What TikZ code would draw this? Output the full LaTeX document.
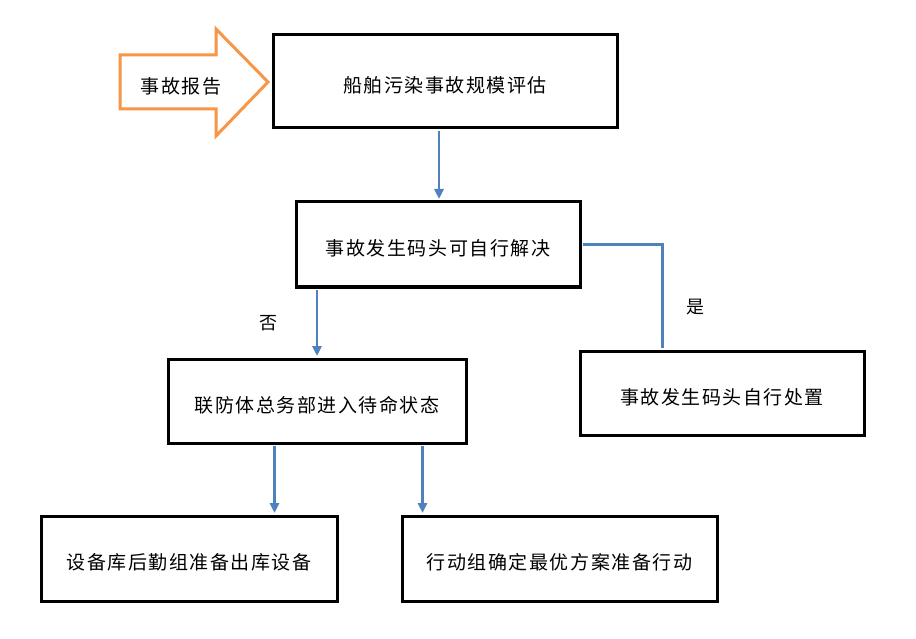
\documentclass[tikz,border=0pt]{standalone}
\usepackage{fontspec}
\newfontfamily\cjk[LetterSpace=8]{Noto Sans CJK SC}
\usetikzlibrary{arrows.meta,calc}
\definecolor{conncol}{RGB}{79,129,189}
\definecolor{orangecol}{RGB}{247,150,70}
\newcommand{\lowtxt}[1]{\raisebox{-4pt}[\height][\depth]{#1}}
\tikzset{
  box/.style={draw=black,line width=3pt,rectangle,inner sep=0pt,font=\cjk\fontsize{19}{22}\selectfont},
  conn/.style={draw=conncol,line width=2.5pt},
  arr/.style={conn,-{Triangle[length=10pt,width=9pt]}},
  lbl/.style={font=\cjk\fontsize{18}{21}\selectfont,inner sep=0pt}
}
\begin{document}
\begin{tikzpicture}[x=1pt,y=-1pt]
\useasboundingbox (0,0) rectangle (916,639);
\fill[white] (0,0) rectangle (916,639);
% orange block arrow
\draw[orangecol,line width=3pt,line join=miter] (120,55) -- (216,55) -- (216,29) -- (268,82) -- (216,136) -- (216,109) -- (120,109) -- cycle;
\node[lbl,font=\cjk\fontsize{19}{22}\selectfont] (report) at (181,82) {\lowtxt{事故报告}};
% boxes
\node[box,minimum width=344pt,minimum height=93pt] (b1) at (445,81.5) {\lowtxt{船舶污染事故规模评估}};
\node[box,minimum width=284pt,minimum height=85pt] (b2) at (438,244.5) {\lowtxt{事故发生码头可自行解决}};
\node[box,minimum width=298pt,minimum height=84pt] (b3) at (317,401) {\lowtxt{联防体总务部进入待命状态}};
\node[box,minimum width=284pt,minimum height=84pt] (b4) at (722,393) {\lowtxt{事故发生码头自行处置}};
\node[box,minimum width=296pt,minimum height=85pt] (b5) at (189,558.5) {\lowtxt{设备库后勤组准备出库设备}};
\node[box,minimum width=315pt,minimum height=85pt] (b6) at (559.5,558.5) {\lowtxt{行动组确定最优方案准备行动}};
% connector end points
\coordinate (s12) at ($(b2.north)+(1,0)$);
\coordinate (t12) at ($(b1.south -| s12)+(0,1.5)$);
\coordinate (e12) at ($(s12)+(0,-1.5)$);
\coordinate (s23) at ($(b2.south -| b3.north)+(0,1.5)$);
\coordinate (e23) at ($(b3.north)+(0,-1.5)$);
\coordinate (e24) at ($(b4.north west)!0.292!(b4.north east)+(0,-1.5)$);
\coordinate (s35) at ($(b3.south west)+(108,1.5)$);
\coordinate (e35) at ($(b5.north -| s35)+(0,-1.5)$);
\coordinate (s36) at ($(b3.south west)+(256,1.5)$);
\coordinate (e36) at ($(b6.north -| s36)+(0,-1.5)$);
% connectors
\draw[arr] (t12) -- (e12);
\draw[arr] (s23) -- (e23);
\draw[conn] ($(b2.east)+(1.5,0)$) -| (e24);
\draw[arr] (s35) -- (e35);
\draw[arr] (s36) -- (e36);
% labels
\node[lbl] (no) at (268,323) {否};
\node[lbl] (yes) at (695,307) {是};
\end{tikzpicture}
\end{document}
